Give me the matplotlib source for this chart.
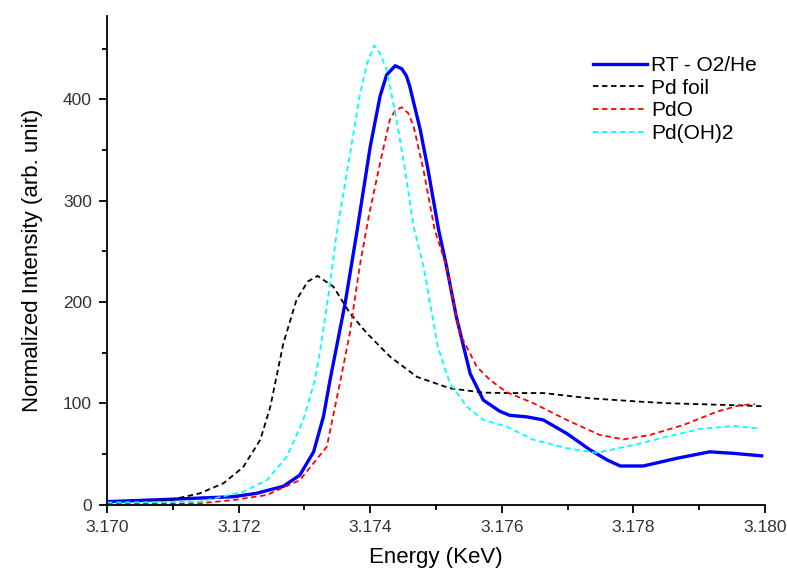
import matplotlib
matplotlib.use("Agg")
import matplotlib.pyplot as plt
from matplotlib.ticker import MultipleLocator, FormatStrFormatter

plt.rcParams['font.family'] = ['Liberation Sans', 'DejaVu Sans']

# RT - O2/He (energy in keV, intensity)
rt_e = [3.1700, 3.1709, 3.17192, 3.17227, 3.17268, 3.17293, 3.17314, 3.17329,
        3.17339, 3.17362, 3.17380, 3.17400, 3.17415, 3.17425, 3.17438, 3.17448,
        3.17455, 3.17460, 3.17476, 3.17488, 3.17504, 3.17516, 3.17531, 3.17552,
        3.17572, 3.17597, 3.17612, 3.17638, 3.17663, 3.17699, 3.17734, 3.17760,
        3.17780, 3.17815, 3.17866, 3.17916, 3.17952, 3.17995]
rt_i = [2.8, 5, 7.7, 11, 18, 29, 52, 87,
        123, 199, 270, 353, 403, 424, 433, 430,
        423, 413, 370, 330, 271, 235, 185, 129,
        103, 92, 88, 86.5, 83.5, 70, 54, 44,
        38, 38, 45.6, 52, 50.5, 48]

# Pd foil
foil_e = [3.1700, 3.17091, 3.17141, 3.17177, 3.17207, 3.17233, 3.17248, 3.17268,
          3.17288, 3.17305, 3.17320, 3.17344, 3.17369, 3.17395, 3.17430, 3.17471,
          3.17521, 3.17572, 3.17610, 3.17663, 3.17734, 3.17810, 3.17851, 3.17952,
          3.17995]
foil_i = [1.5, 3.8, 11, 21, 37, 64, 96, 159,
          202, 220, 225.6, 215, 189, 169, 146, 126,
          114.7, 110.4, 110, 110, 104.8, 101.5, 100, 98,
          97]

# PdO
pdo_e = [3.1700, 3.17141, 3.17192, 3.17243, 3.17293, 3.17334, 3.17354, 3.17369,
         3.17384, 3.17398, 3.17415, 3.17430, 3.17438, 3.17448, 3.17458, 3.17466,
         3.17481, 3.17498, 3.17516, 3.17536, 3.17562, 3.17582, 3.17607, 3.17648,
         3.17699, 3.17749, 3.17785, 3.17825, 3.17876, 3.17927, 3.17962, 3.17985]
pdo_i = [0.5, 1.2, 4.4, 9.4, 24, 57, 120, 169,
         235, 285, 337, 380, 389, 392, 386, 373,
         330, 271, 235, 169, 136, 123, 111, 100,
         83.4, 68.6, 64.3, 68.6, 78.5, 91.6, 98, 99]

# Pd(OH)2
oh_e = [3.1700, 3.17141, 3.17207, 3.17243, 3.17273, 3.17298, 3.17316, 3.17324,
        3.17339, 3.17349, 3.17367, 3.17384, 3.17395, 3.17406, 3.17415, 3.17425,
        3.17440, 3.17453, 3.17466, 3.17481, 3.17503, 3.17521, 3.17547, 3.17572,
        3.17607, 3.17648, 3.17699, 3.17744, 3.17800, 3.17851, 3.17901, 3.17952,
        3.17992]
oh_i = [2, 2.8, 12.6, 24, 47, 83, 123, 152,
        218, 268, 337, 403, 435, 453, 445, 429,
        380, 330, 274, 235, 155, 120, 96.5, 83.4,
        77, 64, 55.5, 51, 58.7, 67, 74.5, 77.5,
        75]

fig = plt.figure(figsize=(7.87, 5.75), dpi=100)
ax = fig.add_axes([0.136, 0.1226, 0.836, 0.8494])

ax.plot(rt_e, rt_i, color='#0000ff', lw=2.4, label='RT - O2/He')
ax.plot(foil_e, foil_i, color='black', lw=1.3, ls=(0, (3, 2)), label='Pd foil')
ax.plot(pdo_e, pdo_i, color='#ff0000', lw=1.3, ls=(0, (3, 2)), label='PdO')
ax.plot(oh_e, oh_i, color='#00ffff', lw=1.3, ls=(0, (3, 2)), label='Pd(OH)2')

ax.set_xlim(3.170, 3.180)
ax.set_ylim(0, 482)
ax.xaxis.set_major_locator(MultipleLocator(0.002))
ax.xaxis.set_minor_locator(MultipleLocator(0.001))
ax.yaxis.set_major_locator(MultipleLocator(100))
ax.yaxis.set_minor_locator(MultipleLocator(50))
ax.xaxis.set_major_formatter(FormatStrFormatter('%.3f'))

for s in ['top', 'right']:
    ax.spines[s].set_visible(False)
for s in ['left', 'bottom']:
    ax.spines[s].set_linewidth(1.3)

ax.tick_params(which='major', direction='out', length=6, width=1.3, pad=5,
               labelsize=12.5, labelcolor='#333333')
ax.tick_params(which='minor', direction='out', length=3.3, width=1.3)

ax.set_xlabel('Energy (KeV)', fontsize=16, labelpad=9)
ax.set_ylabel('Normalized Intensity (arb. unit)', fontsize=16, labelpad=14)

ax.legend(loc='upper left', bbox_to_anchor=(593 / 787, 1 - 56 / 575),
          bbox_transform=fig.transFigure, frameon=False, borderpad=0,
          borderaxespad=0, fontsize=15, handlelength=2.6, handletextpad=0.2,
          labelspacing=0.18)

fig.savefig('out.png', dpi=100)
